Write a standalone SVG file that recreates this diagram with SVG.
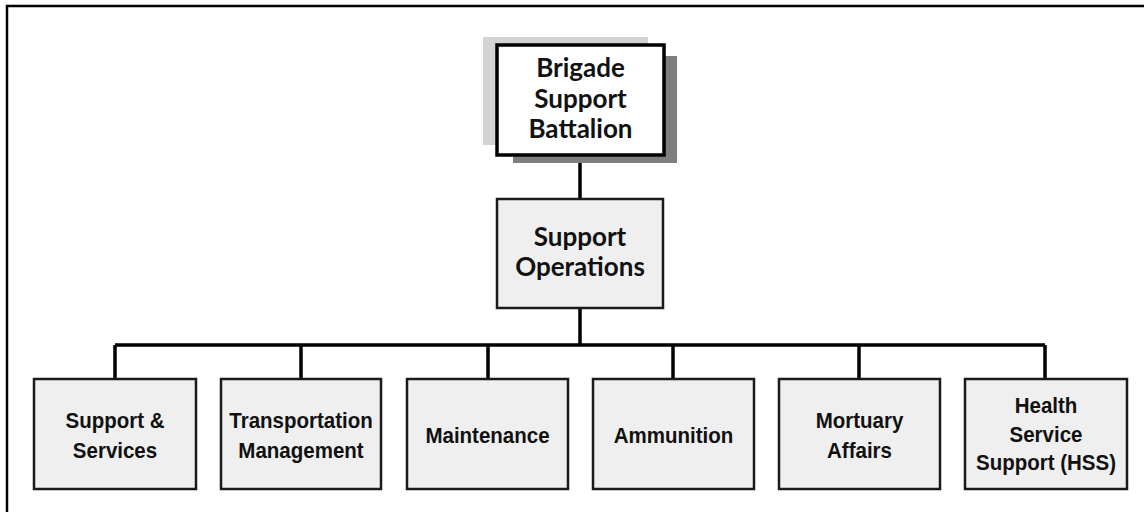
<svg xmlns="http://www.w3.org/2000/svg" width="1144" height="512" viewBox="0 0 1144 512">
<style>
.box{fill:#efefef;stroke:#1a1a1a;stroke-width:2.5}
.top{fill:#ffffff;stroke:#000;stroke-width:3.5}
.t1{font-family:Lato,"Open Sans",sans-serif;font-weight:bold;font-size:26px;fill:#111;text-anchor:middle}
.t2{font-family:"Liberation Sans",Arial,sans-serif;font-weight:bold;font-size:20.5px;fill:#111;text-anchor:middle}
.ln{stroke:#000;stroke-width:3.5;fill:none}
</style>
<rect width="1144" height="512" fill="#fff"/>
<path d="M7,512 V6 H1144" stroke="#000" stroke-width="2.5" fill="none"/>
<g id="connectors">
<path class="ln" d="M580,155 V199 M580,308 V345 M115,345 H1045 M115,345 V379 M301,345 V379 M488,345 V379 M673,345 V379 M859,345 V379 M1045,345 V379"/>
</g>
<g id="brigade-support-battalion">
<rect x="483" y="37" width="165" height="108" fill="#d3d3d3"/>
<rect x="513" y="56" width="164" height="107" fill="#7f7f7f"/>
<rect class="top" x="497" y="45" width="167" height="110"/>
<text class="t1" x="580.5" y="77">Brigade</text>
<text class="t1" x="580.5" y="108">Support</text>
<text class="t1" x="580.5" y="138">Battalion</text>
</g>
<g id="support-operations">
<rect class="box" x="497" y="199" width="166" height="109"/>
<text class="t1" x="580" y="246">Support</text>
<text class="t1" x="580" y="276">Operations</text>
</g>
<g id="support-services">
<rect class="box" x="34" y="379" width="162" height="110"/>
<text class="t2" transform="translate(115,428) scale(1,1.08)">Support &amp;</text>
<text class="t2" transform="translate(115,458) scale(1,1.08)">Services</text>
</g>
<g id="transportation-management">
<rect class="box" x="221" y="379" width="160" height="110"/>
<text class="t2" transform="translate(301,428) scale(1,1.08)">Transportation</text>
<text class="t2" transform="translate(301,458) scale(1,1.08)">Management</text>
</g>
<g id="maintenance">
<rect class="box" x="407" y="379" width="161" height="110"/>
<text class="t2" transform="translate(487.5,443) scale(1,1.08)">Maintenance</text>
</g>
<g id="ammunition">
<rect class="box" x="593" y="379" width="161" height="110"/>
<text class="t2" transform="translate(673.5,443) scale(1,1.08)">Ammunition</text>
</g>
<g id="mortuary-affairs">
<rect class="box" x="779" y="379" width="161" height="110"/>
<text class="t2" transform="translate(859.5,428) scale(1,1.08)">Mortuary</text>
<text class="t2" transform="translate(859.5,458) scale(1,1.08)">Affairs</text>
</g>
<g id="health-service-support">
<rect class="box" x="965" y="379" width="162" height="110"/>
<text class="t2" transform="translate(1046,413) scale(1,1.08)">Health</text>
<text class="t2" transform="translate(1046,442) scale(1,1.08)">Service</text>
<text class="t2" transform="translate(1046,470) scale(1,1.08)">Support (HSS)</text>
</g>
</svg>
